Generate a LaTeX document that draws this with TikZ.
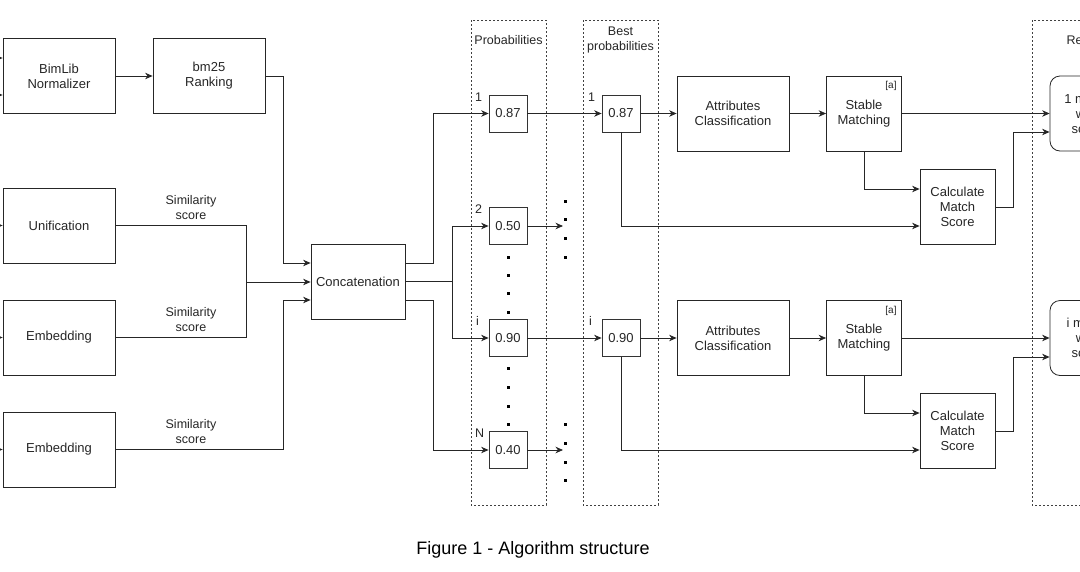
\documentclass[tikz,border=0pt]{standalone}
\usepackage{fontspec}
\setmainfont{Liberation Sans}
\usetikzlibrary{arrows.meta}
\begin{document}
\begin{tikzpicture}[x=1pt,y=-1pt,
  txt/.style={font=\fontsize{13}{15}\selectfont, text=black!85, align=center, inner sep=0pt},
  box/.style={txt, draw=black!85, line width=0.8pt, minimum width=#1, minimum height=75},
  box/.default=112,
  pbox/.style={txt, draw=black!80, line width=0.8pt, minimum width=38, minimum height=37},
  rbox/.style={box=75, rounded corners=10pt},
  cont/.style={draw=black!75, line width=0.7pt, dash pattern=on 2pt off 2pt},
  arr/.style={-{Stealth[length=7.5pt,width=6.5pt]}, line width=0.8pt, draw=black!85},
  ln/.style={line width=0.8pt, draw=black!85},
  sdot/.style={fill=black, minimum size=3pt, inner sep=0pt},
  lab/.style={txt, font=\fontsize{12.5}{14.5}\selectfont}
]
\useasboundingbox (0,0) rectangle (1080,571);
\clip (0,0) rectangle (1080,571);

% containers
\draw[cont] (471,20) rectangle (546,505);
\draw[cont] (583,20) rectangle (658,505);
\draw[cont] (1032,20) rectangle (1143,505);
\node[lab] (tprob) at (508.5,40) {Probabilities};
\node[lab] (tbest) at (620.5,40) {Best\\probabilities};
\node[lab] (tres) at (1087.5,40) {Results};

% left column
\node[box] (bim) at (59,76) {BimLib\\Normalizer};
\node[box] (bm) at (209,76) {bm25\\Ranking};
\node[box] (uni) at (59,225.5) {Unification};
\node[box] (emb1) at (59,337.5) {Embedding};
\node[box] (emb2) at (59,449.5) {Embedding};
\node[box=94] (cat) at (358,281.5) {Concatenation};

% incoming from the left edge
\coordinate (inA) at (-12,58);
\coordinate (inB) at (-12,95);
\coordinate (inC) at (-12,225.5);
\coordinate (inD) at (-12,337.5);
\coordinate (inE) at (-12,449.5);
\draw[arr] (inA) -- (inA -| bim.west);
\draw[arr] (inB) -- (inB -| bim.west);
\draw[arr] (inC) -- (uni.west);
\draw[arr] (inD) -- (emb1.west);
\draw[arr] (inE) -- (emb2.west);

\draw[arr] (bim.east) -- (bm.west);
\draw[arr] (bm.east) -- ++(18,0) |- (cat.west |- 0,263);
\coordinate (j1) at (246,282);
\draw[ln] (uni.east) -| (j1);
\draw[ln] (emb1.east) -| (j1);
\draw[arr] (j1) -- (cat.west |- j1);
\draw[arr] (emb2.east) -- ++(168,0) |- (cat.west |- 0,300);

\node[lab] (s1) at (191,207.5) {Similarity\\score};
\node[lab] (s2) at (191,319.5) {Similarity\\score};
\node[lab] (s3) at (191,431.5) {Similarity\\score};

% probabilities
\node[pbox] (p1) at (508,113.5) {0.87};
\node[pbox] (p2) at (508,226) {0.50};
\node[pbox] (pi) at (508,338) {0.90};
\node[pbox] (pN) at (508,450) {0.40};
\node[lab, anchor=south west] (l1) at (475,102) {1};
\node[lab, anchor=south west] (l2) at (475,214) {2};
\node[lab, anchor=south west] (l3) at (476,326) {i};
\node[lab, anchor=south west] (l4) at (475,438) {N};

\foreach \yy [count=\k] in {257,275,293,312,368,387,406,424}
  \node[sdot] (da\k) at (508,\yy) {};
\foreach \yy [count=\k] in {201,219,238,257,424,443,462,480}
  \node[sdot] (db\k) at (565,\yy) {};

\draw[arr] (cat.east |- 0,263) -- ++(28,0) |- (p1.west);
\draw[arr] (cat.east) -- ++(47,0) |- (p2.west);
\draw[arr] (cat.east) ++(47,0) |- (pi.west);
\draw[arr] (cat.east |- 0,300) -- ++(28,0) |- (pN.west);

\coordinate (e2) at (563,226);
\coordinate (eN) at (563,450);
\draw[arr] (p2.east) -- (e2);
\draw[arr] (pN.east) -- (eN);

% best probabilities
\node[pbox] (b1) at (621,113.5) {0.87};
\node[pbox] (bi) at (621,338) {0.90};
\node[lab, anchor=south west] (bl1) at (588,102) {1};
\node[lab, anchor=south west] (bl2) at (589,326) {i};
\draw[arr] (p1.east) -- (b1.west);
\draw[arr] (pi.east) -- (bi.west);

% row 1
\node[box] (ac1) at (733,113.5) {Attributes\\Classification};
\node[box=75] (sm1) at (864,113.5) {Stable\\Matching};
\node[lab, font=\fontsize{10}{12}\selectfont] (a1) at (891,86) {[a]};
\node[box=75] (cms1) at (957.5,207) {Calculate\\Match\\Score};
\node[rbox] (r1) at (1087.5,113.5) {1 match\\with\\score};
\draw[arr] (b1.east) -- (ac1.west);
\draw[arr] (ac1.east) -- (sm1.west);
\draw[arr] (sm1.east) -- (r1.west |- sm1.east);
\draw[arr] (sm1.south) |- (cms1.west |- 0,189);
\draw[arr] (b1.south) |- (cms1.west |- 0,226);
\draw[arr] (cms1.east) -- ++(18,0) |- (r1.west |- 0,132);

% row 2
\node[box] (ac2) at (733,338) {Attributes\\Classification};
\node[box=75] (sm2) at (864,338) {Stable\\Matching};
\node[lab, font=\fontsize{10}{12}\selectfont] (a2) at (891,310.5) {[a]};
\node[box=75] (cms2) at (957.5,431) {Calculate\\Match\\Score};
\node[rbox] (r2) at (1087.5,338) {i match\\with\\score};
\draw[arr] (bi.east) -- (ac2.west);
\draw[arr] (ac2.east) -- (sm2.west);
\draw[arr] (sm2.east) -- (r2.west |- sm2.east);
\draw[arr] (sm2.south) |- (cms2.west |- 0,413);
\draw[arr] (bi.south) |- (cms2.west |- 0,450);
\draw[arr] (cms2.east) -- ++(18,0) |- (r2.west |- 0,357);

% caption
\node[txt, font=\fontsize{18}{21}\selectfont, text=black] (cap) at (533,549.5) {Figure 1 - Algorithm structure};
\end{tikzpicture}
\end{document}
